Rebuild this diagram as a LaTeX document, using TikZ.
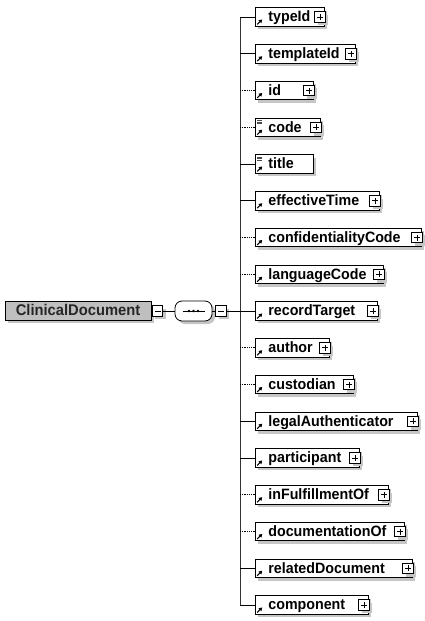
\documentclass[tikz,border=0pt]{standalone}
\usepackage{fontspec}
\setmainfont{Liberation Sans}[FakeStretch=0.95]
\usetikzlibrary{shadows,arrows.meta}
\tikzset{
  shd/.style={drop shadow={shadow xshift=3pt,shadow yshift=-3pt,fill=gray!45,opacity=1}},
  elem/.style={draw=black, line width=0.8pt, fill=white, shd, anchor=west, inner sep=0pt,
    text height=14pt, text depth=4.5pt, font=\bfseries\fontsize{15}{17}\selectfont},
  mainel/.style={draw=black, line width=0.8pt, fill=gray!50, shd, inner sep=0pt,
    minimum width=146pt, text height=14pt, text depth=4.5pt, text=black!85,
    font=\bfseries\fontsize{15.5}{17}\selectfont},
  pbox/.style={draw=black, line width=0.8pt, fill=white, shd, minimum size=10.5pt, inner sep=0pt,
    path picture={\draw[line width=0.8pt]
      ([xshift=-3pt]path picture bounding box.center) -- ([xshift=3pt]path picture bounding box.center)
      ([yshift=-3pt]path picture bounding box.center) -- ([yshift=3pt]path picture bounding box.center);}},
  mbox/.style={draw=black, line width=0.8pt, fill=white, shd, minimum size=10.5pt, inner sep=0pt,
    path picture={\draw[line width=0.8pt]
      ([xshift=-3pt]path picture bounding box.center) -- ([xshift=3pt]path picture bounding box.center);}},
  seqbox/.style={draw=black, line width=0.8pt, fill=white, shd, rounded corners=7pt,
    minimum width=37pt, minimum height=20pt, inner sep=0pt},
  conn/.style={draw=black, line width=0.8pt},
  opt/.style={densely dotted, line width=0.9pt},
  refarrow/.style={line width=1.1pt, -{Triangle[length=3.2pt,width=3.8pt]}},
  eqline/.style={line width=0.5pt, draw=black!70}
}
\newcommand\kid[5]{%
  \node[elem] (#1) at (255,#2) {\makebox[#3pt][l]{\hspace{13pt}#4}};
  \draw[conn,#5] (#1.west -| vtop) -- (#1.west);
  \draw[refarrow] ([shift={(2.2pt,2.2pt)}]#1.south west) -- ++(5pt,5pt);
}
\newcommand\kidplus[1]{\node[pbox] (#1-plus) at ([xshift=-4.8pt]#1.east) {};}
\newcommand\eqicon[1]{\draw[eqline]
  ([shift={(2pt,-2.4pt)}]#1.north west) -- ++(4.5pt,0pt)
  ([shift={(2pt,-4.2pt)}]#1.north west) -- ++(4.5pt,0pt)
  ([shift={(2pt,-6pt)}]#1.north west) -- ++(4.5pt,0pt);}
\begin{document}
\begin{tikzpicture}[x=1pt,y=-1pt]
\useasboundingbox (0,0) rectangle (425,621);
\coordinate (vtop) at (240,17);
\coordinate (vbot) at (240,605);
\draw[conn,line width=0.7pt,draw=black!80] (vtop) -- (vbot);

\kid{typeId}{17}{69}{typeId}{}\kidplus{typeId}
\kid{templateId}{53.75}{100}{templateId}{}\kidplus{templateId}
\kid{id}{90.5}{58}{id}{opt}\kidplus{id}
\kid{code}{127.25}{65}{code}{opt}\kidplus{code}\eqicon{code}
\kid{title}{164}{58}{title}{}\eqicon{title}
\kid{effectiveTime}{200.75}{124}{effectiveTime}{}\kidplus{effectiveTime}
\kid{confidentialityCode}{237.5}{166}{confidentialityCode}{opt}\kidplus{confidentialityCode}
\kid{languageCode}{274.25}{128}{languageCode}{opt}\kidplus{languageCode}
\kid{recordTarget}{311}{122}{recordTarget}{}\kidplus{recordTarget}
\kid{author}{347.75}{74}{author}{opt}\kidplus{author}
\kid{custodian}{384.5}{98}{custodian}{opt}\kidplus{custodian}
\kid{legalAuthenticator}{421.25}{162}{legalAuthenticator}{}\kidplus{legalAuthenticator}
\kid{participant}{458}{104}{participant}{}\kidplus{participant}
\kid{inFulfillmentOf}{494.75}{133}{inFulfillmentOf}{opt}\kidplus{inFulfillmentOf}
\kid{documentationOf}{531.5}{149}{documentationOf}{opt}\kidplus{documentationOf}
\kid{relatedDocument}{568.25}{157}{relatedDocument}{}\kidplus{relatedDocument}
\kid{component}{605}{113}{component}{}\kidplus{component}

% main element and sequence compositor
\node[mainel] (cd) at (78,311) {ClinicalDocument};
\node[mbox] (cdm) at (157.5,311) {};
\node[seqbox] (seq) at (193.5,311) {};
\node[mbox] (seqm) at (221,311) {};
\draw[conn] (cdm) -- (seq);
\draw[conn] (seq) -- (seqm);
\draw[conn] (seqm) -- (recordTarget.west -| vtop);
\draw[line width=0.8pt] ([xshift=-11pt]seq.center) -- ([xshift=11pt]seq.center);
\fill ([xshift=-4.5pt]seq.center) circle (1.4pt);
\fill (seq.center) circle (1.4pt);
\fill ([xshift=4.5pt]seq.center) circle (1.4pt);
\end{tikzpicture}
\end{document}
